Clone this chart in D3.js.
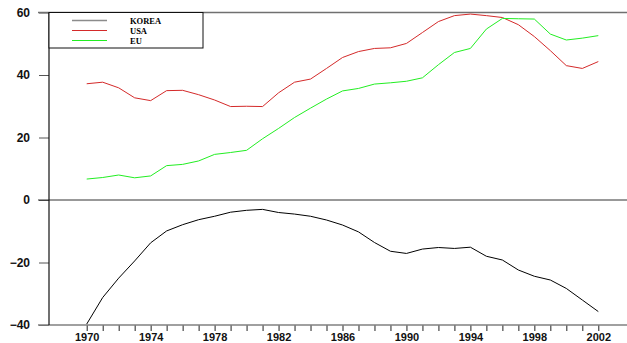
<!DOCTYPE html>
<html>
<head>
<meta charset="utf-8">
<script src="https://cdn.jsdelivr.net/npm/d3@7"></script>
<style>
  html, body { margin: 0; padding: 0; background: #fff; }
  svg { display: block; }
</style>
</head>
<body>
<svg id="chart" width="627" height="343"></svg>
<script>
// Trade balance series, 1970-2002
const years = d3.range(1970, 2003);
const korea = [-39.7, -31.2, -25.0, -19.5, -13.7, -9.9, -7.9, -6.3, -5.2, -3.9,
  -3.3, -3.0, -4.0, -4.5, -5.2, -6.4, -8.0, -10.2, -13.6, -16.4,
  -17.1, -15.7, -15.2, -15.5, -15.1, -18.0, -19.2, -22.4, -24.4, -25.6,
  -28.3, -32.0, -35.7];
const usa = [37.2, 37.7, 35.9, 32.7, 31.8, 35.0, 35.1, 33.7, 32.0, 29.9,
  30.0, 29.9, 34.3, 37.7, 38.7, 42.1, 45.6, 47.5, 48.5, 48.7,
  50.1, 53.6, 57.1, 59.0, 59.5, 59.0, 58.4, 56.1, 52.3, 47.8,
  43.0, 42.1, 44.3];
const eu = [6.7, 7.2, 8.0, 7.1, 7.7, 11.0, 11.4, 12.5, 14.6, 15.2,
  15.9, 19.6, 22.9, 26.4, 29.4, 32.3, 34.9, 35.7, 37.1, 37.5,
  38.0, 39.1, 43.3, 47.2, 48.5, 54.7, 58.1, 58.0, 57.9, 53.1,
  51.2, 51.8, 52.6];
const seriesNames = ["KOREA", "USA", "EU"];
const lineColors = ["#000000", "#d42a2a", "#22ee22"];
const legendColors = ["#8c8c8c", "#d42a2a", "#22ee22"];
const yTicks = [60, 40, 20, 0, -20, -40];
const xLabelYears = [1970, 1974, 1978, 1982, 1986, 1990, 1994, 1998, 2002];

const svg = d3.select("#chart");
const plotLeft = 49, plotRight = 627, plotTop = 12.5, plotBottom = 325;

const x = d3.scaleLinear().domain([1970, 2002]).range([86.7, 598.3]);
const y = d3.scaleLinear().domain([-40, 60]).range([plotBottom, plotTop]);

// y axis: ticks extend to the left of the frame
const yAxis = svg.append("g")
  .attr("transform", `translate(${plotLeft},0)`)
  .call(d3.axisLeft(y).tickValues(yTicks).tickSize(10).tickPadding(9)
    .tickFormat(d => d < 0 ? "\u2212" + Math.abs(d) : d));
yAxis.select(".domain").remove();
yAxis.selectAll(".tick line").attr("stroke", "#555").attr("stroke-width", 1);
yAxis.selectAll(".tick text")
  .attr("font-family", "Liberation Sans, Arial, sans-serif")
  .attr("font-size", 12).attr("font-weight", "bold").attr("fill", "#111");

// x axis: yearly ticks hanging below the bottom line
const xAxis = svg.append("g")
  .attr("transform", `translate(0,${plotBottom})`)
  .call(d3.axisBottom(x).tickValues(years).tickSize(6).tickPadding(2)
    .tickFormat(d => xLabelYears.includes(d) ? d : ""));
xAxis.select(".domain").remove();
xAxis.selectAll(".tick line").attr("stroke", "#222").attr("stroke-width", 1);
xAxis.selectAll(".tick text")
  .attr("font-family", "Liberation Sans, Arial, sans-serif")
  .attr("font-size", 11).attr("font-weight", "bold").attr("fill", "#111");

// frame lines
svg.append("line").attr("x1", 38).attr("x2", plotRight).attr("y1", plotTop).attr("y2", plotTop)
  .attr("stroke", "#707070").attr("stroke-width", 1.3);
svg.append("line").attr("x1", 38).attr("x2", plotRight).attr("y1", plotBottom).attr("y2", plotBottom)
  .attr("stroke", "#808080").attr("stroke-width", 1.3);
svg.append("line").attr("x1", 38).attr("x2", plotRight).attr("y1", y(0)).attr("y2", y(0))
  .attr("stroke", "#333").attr("stroke-width", 1);
svg.append("line").attr("x1", plotLeft).attr("x2", plotLeft).attr("y1", plotTop).attr("y2", plotBottom)
  .attr("stroke", "#111").attr("stroke-width", 1.2);

// series lines
const line = d3.line().x((d, i) => x(years[i])).y(d => y(d));
[korea, usa, eu].forEach((vals, k) => {
  svg.append("path").datum(vals)
    .attr("d", line)
    .attr("fill", "none")
    .attr("stroke", lineColors[k])
    .attr("stroke-width", 1);
});

// legend
const lg = svg.append("g");
lg.append("rect").attr("x", plotLeft).attr("y", plotTop).attr("width", 154).attr("height", 35.5)
  .attr("fill", "#fff").attr("stroke", "#111").attr("stroke-width", 1);
seriesNames.forEach((name, k) => {
  const ly = 20.5 + k * 10;
  lg.append("line").attr("x1", 72).attr("x2", 107).attr("y1", ly).attr("y2", ly)
    .attr("stroke", legendColors[k]).attr("stroke-width", k === 0 ? 1.4 : 1);
  lg.append("text").attr("x", 130).attr("y", ly + 3)
    .attr("font-family", "Liberation Serif, Times New Roman, serif")
    .attr("font-weight", "bold").attr("font-size", 8.5)
    .attr("fill", "#000").text(name);
});
</script>
</body>
</html>
